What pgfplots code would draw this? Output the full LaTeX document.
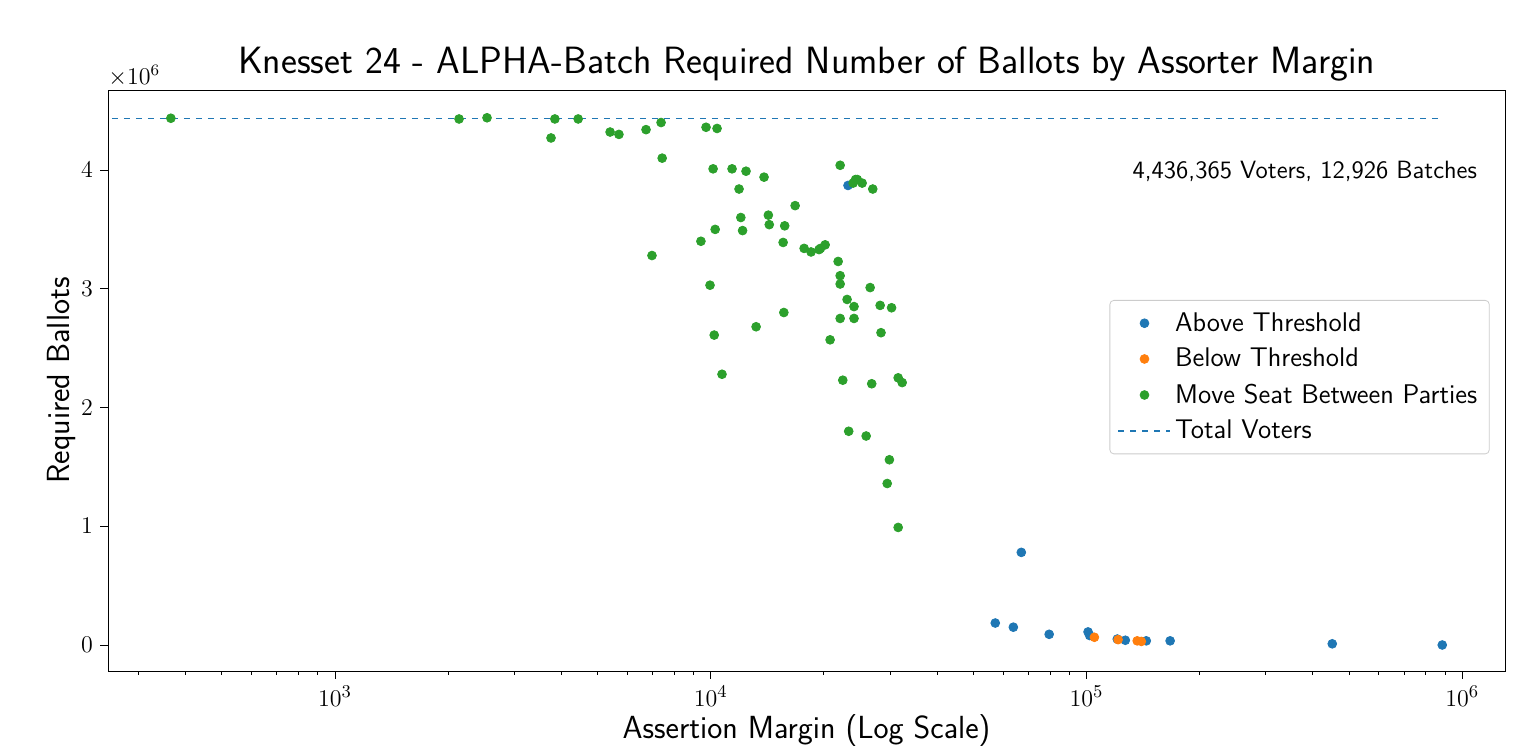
\documentclass[border=0pt]{standalone}
\usepackage{pgfplots}
\pgfplotsset{compat=1.18}
\definecolor{mblue}{HTML}{1F77B4}
\definecolor{morange}{HTML}{FF7F0E}
\definecolor{mgreen}{HTML}{2CA02C}
\begin{document}
\begin{tikzpicture}
\begin{axis}[
  scale only axis, width=698.5pt, height=290.5pt,
  xmode=log, xmin=249, xmax=1.30e6, ymin=-0.219, ymax=4.674,
  ytick={0,1,2,3,4}, xtick={1e3,1e4,1e5,1e6},
  minor xtick={300,400,500,600,700,800,900,2000,3000,4000,5000,6000,7000,8000,9000,20000,30000,40000,50000,60000,70000,80000,90000,200000,300000,400000,500000,600000,700000,800000,900000},
  log basis x=10,
  clip=false,
  tick label style={font=\fontsize{12.5}{14}\selectfont},
  title={\sffamily Knesset 24 - ALPHA-Batch Required Number of Ballots by Assorter Margin},
  title style={font=\fontsize{19}{22}\selectfont, yshift=-5pt},
  xlabel={\sffamily Assertion Margin (Log Scale)},
  ylabel={\sffamily Required Ballots},
  label style={font=\fontsize{16}{19}\selectfont},
  xlabel style={yshift=3pt},
  ylabel style={yshift=-4pt},
  legend style={at={(0.989,0.6386)}, anchor=north east, font=\sffamily\fontsize{13.5}{16}\selectfont, draw=black!20, rounded corners=2pt, row sep=3pt, inner sep=4pt},
  legend cell align=left,
  legend image code/.code={\draw[#1] (0pt,0pt) -- (26pt,0pt);},
  tick align=outside, major tick length=4pt, minor tick length=2pt,
  every tick/.style={black},
  ytick pos=left, xtick pos=bottom,
]
\addplot[only marks, mark=*, mark size=2.2pt, color=mblue, legend image code/.code={\draw[mblue,fill=mblue] (13pt,0pt) circle (2.2pt);}] coordinates {
(23200,3.87)(57200,0.185)(63900,0.15)(67100,0.78)(79600,0.09)(101000,0.11)(102000,0.08)
(120800,0.05)(126900,0.04)(144300,0.035)(167000,0.035)(451000,0.01)(885000,0.0)};
\addlegendentry{Above Threshold}
\addplot[only marks, mark=*, mark size=2.2pt, color=morange, legend image code/.code={\draw[morange,fill=morange] (13pt,0pt) circle (2.2pt);}] coordinates {
(105000,0.065)(121400,0.045)(136500,0.035)(140000,0.03)};
\addlegendentry{Below Threshold}
\addplot[only marks, mark=*, mark size=2.2pt, color=mgreen, legend image code/.code={\draw[mgreen,fill=mgreen] (13pt,0pt) circle (2.2pt);}] coordinates {
(366,4.436)(2140,4.43)(2540,4.44)(3760,4.27)(3850,4.43)(4440,4.43)(5400,4.32)(5700,4.30)
(6730,4.34)(6980,3.28)(7380,4.40)(7430,4.10)(9720,4.36)(10400,4.35)(10150,4.01)(9420,3.40)
(9960,3.03)(10280,3.50)(10220,2.61)(10720,2.28)(11400,4.01)(11900,3.84)(12030,3.60)(12160,3.49)
(12420,3.99)(13210,2.68)(13870,3.94)(14240,3.62)(14320,3.54)(15590,3.39)(15740,3.53)(15660,2.80)
(16780,3.70)(17730,3.34)(18500,3.31)(19430,3.33)(19600,3.34)(20170,3.37)(20790,2.57)(21840,3.23)
(22110,4.04)(22110,3.11)(22110,3.04)(22110,2.75)(22470,2.23)(23070,2.91)(23300,1.80)(23940,3.89)
(24300,3.92)(24560,3.92)(25300,3.89)(24070,2.85)(24070,2.75)(25930,1.76)(26570,3.01)(26830,2.20)
(27000,3.84)(28250,2.86)(28400,2.63)(29500,1.36)(29900,1.56)(30300,2.84)(31550,2.25)(31550,0.99)
(32330,2.21)};
\addlegendentry{Move Seat Between Parties}
\addplot[dashed, draw=mblue, semithick, mark=none] coordinates {(255,4.436365)(885000,4.436365)};
\addlegendentry{Total Voters}
\node[anchor=east, font=\sffamily\fontsize{12.5}{14}\selectfont] at (rel axis cs:0.985,0.86) {4,436,365 Voters, 12,926 Batches};
\node[anchor=south west, inner sep=0pt, font=\fontsize{12}{14}\selectfont] at (rel axis cs:0,1.005) {$\times10^{6}$};
\end{axis}
\useasboundingbox ([shift={(-54pt,-41.5pt)}]current axis.south west) rectangle ++(768pt,377pt);
\end{tikzpicture}
\end{document}
